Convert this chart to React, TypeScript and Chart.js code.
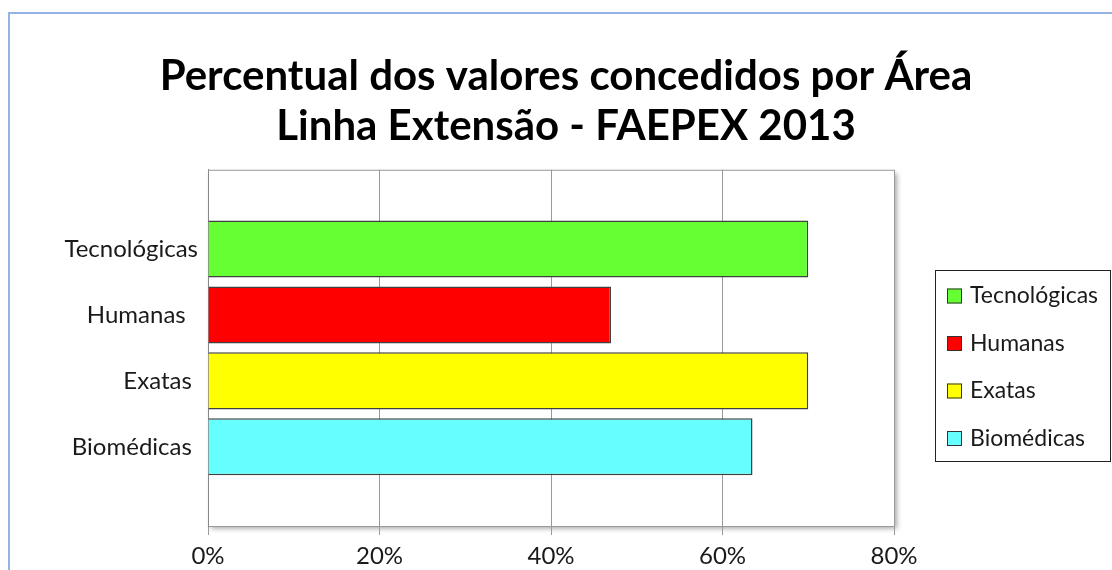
import React, { useEffect, useRef } from "react";
import { Chart, registerables } from "chart.js";

Chart.register(...registerables);

const titleLines = ["Percentual dos valores concedidos por Área", "Linha Extensão - FAEPEX 2013"];
const categories = ["Tecnológicas", "Humanas", "Exatas", "Biomédicas"];
const tickLabels = ["Tecnológicas", "Humanas  ", "Exatas ", "Biomédicas "];
const values = [70, 47, 70, 63.5];
const colors = ["#66FF33", "#FF0000", "#FFFF00", "#66FFFF"];
const xTicks = [0, 20, 40, 60, 80];

const FONT = "Lato, 'Open Sans', sans-serif";

const plotShadow = {
  id: "plotShadow",
  beforeDraw(chart: any) {
    const { ctx, chartArea: a } = chart;
    ctx.save();
    ctx.shadowColor = "rgba(0,0,0,0.35)";
    ctx.shadowBlur = 5;
    ctx.shadowOffsetX = 3;
    ctx.shadowOffsetY = 3;
    ctx.fillStyle = "#ffffff";
    ctx.fillRect(a.left, a.top, a.right - a.left, a.bottom - a.top);
    ctx.restore();
  },
  afterDraw(chart: any) {
    const { ctx, chartArea: a } = chart;
    ctx.save();
    ctx.strokeStyle = "#9a9a9a";
    ctx.lineWidth = 1;
    ctx.beginPath();
    ctx.moveTo(a.left, a.top + 0.5);
    ctx.lineTo(a.right + 0.5, a.top + 0.5);
    ctx.lineTo(a.right + 0.5, a.bottom);
    ctx.stroke();
    ctx.restore();
  },
};

const boxedLegend = {
  id: "boxedLegend",
  afterDraw(chart: any) {
    const { ctx, chartArea: a } = chart;
    const left = a.right + 41;
    const top = 270;
    const w = 175;
    const h = 191;
    ctx.save();
    ctx.fillStyle = "#fff";
    ctx.fillRect(left, top, w, h);
    ctx.strokeStyle = "#222";
    ctx.lineWidth = 1;
    ctx.strokeRect(left + 0.5, top + 0.5, w, h);
    ctx.font = `23px ${FONT}`;
    ctx.textBaseline = "middle";
    ctx.textAlign = "left";
    chart.data.datasets.forEach((ds: any, i: number) => {
      const cy = top + 26 + i * 47.5;
      ctx.fillStyle = ds.backgroundColor;
      ctx.fillRect(left + 12, cy - 7.5, 15, 15);
      ctx.strokeStyle = "#333";
      ctx.strokeRect(left + 12.5, cy - 7, 14, 14);
      ctx.fillStyle = "#1a1a1a";
      ctx.fillText(ds.label, left + 35, cy);
    });
    ctx.restore();
  },
};

export default function App() {
  const ref = useRef<HTMLCanvasElement | null>(null);
  useEffect(() => {
    if (!ref.current) return;
    const chart = new Chart(ref.current, {
      type: "bar",
      data: {
        datasets: categories.map((c, i) => ({
          label: c,
          data: [{ x: values[i], y: i }],
          backgroundColor: colors[i],
          borderColor: "#404040",
          borderWidth: 1.5,
          grouped: false,
          categoryPercentage: 1,
          barPercentage: 0.865,
        })) as any,
      },
      options: {
        animation: false,
        responsive: false,
        indexAxis: "y",
        layout: { padding: { left: 20, right: 0, top: 0, bottom: 0 } },
        plugins: {
          legend: { display: false },
          tooltip: { enabled: false },
          title: {
            display: true,
            text: titleLines,
            color: "#000",
            font: { family: FONT, size: 42, weight: "bold", lineHeight: 1.2 },
            padding: { top: 51, bottom: 18 },
          },
        },
        scales: {
          x: {
            type: "linear",
            position: "bottom",
            min: xTicks[0],
            max: xTicks[xTicks.length - 1],
            afterBuildTicks: (s: any) => {
              s.ticks = xTicks.map((v) => ({ value: v }));
            },
            ticks: {
              callback: (v: any) => `${v}%`,
              font: { family: FONT, size: 24 },
              color: "#1a1a1a",
              padding: 7,
            },
            grid: { color: "#9a9a9a", tickLength: 9, lineWidth: 1 },
            border: { color: "#9a9a9a" },
            afterFit: (s: any) => {
              s.height = 44;
            },
          },
          y: {
            type: "linear",
            reverse: true,
            bounds: "data",
            offset: false,
            min: -1.2,
            max: categories.length - 1 + 1.2,
            afterBuildTicks: (s: any) => {
              s.ticks = categories.map((_, i) => ({ value: i }));
            },
            ticks: {
              callback: (v: any) => tickLabels[v] ?? "",
              font: { family: FONT, size: 24 },
              color: "#1a1a1a",
              padding: 10,
            },
            grid: { display: false, drawTicks: false },
            border: { display: true, color: "#888" },
            afterFit: (s: any) => {
              s.width = 188;
            },
          },
          y2: {
            type: "linear",
            position: "right",
            display: true,
            grid: { display: false, drawTicks: false },
            border: { display: false },
            ticks: { display: false },
            afterFit: (s: any) => {
              s.width = 218;
            },
          },
        },
      } as any,
      plugins: [plotShadow, boxedLegend],
    });
    return () => chart.destroy();
  }, []);

  return (
    <div style={{ position: "absolute", left: 0, top: 0, width: 1112, height: 570, background: "#fff", overflow: "hidden" }}>
      <div
        style={{
          position: "absolute",
          left: 8,
          top: 12,
          width: 1200,
          height: 700,
          borderTop: "2px solid #95b3e5",
          borderLeft: "2px solid #95b3e5",
        }}
      />
      <canvas ref={ref} width={1112} height={570} style={{ position: "absolute", left: 0, top: 0 }} />
    </div>
  );
}
